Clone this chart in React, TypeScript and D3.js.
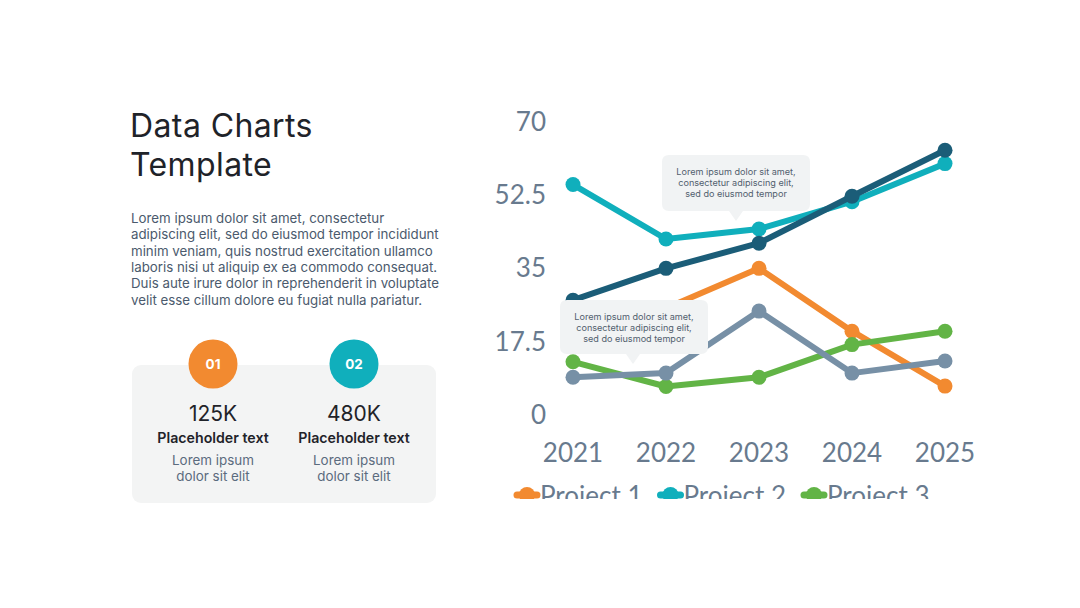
import React from "react";
import * as d3 from "d3";

const years = ["2021", "2022", "2023", "2024", "2025"];
const seriesNames = ["Project 1", "Project 2", "Project 3", "Project 4", "Project 5"];
const seriesColors = ["#f28a30", "#10afbc", "#62b446", "#7790a6", "#1b5d78"];
const project1 = [20, 25.5, 35, 20, 6.9];
const project2 = [55, 42, 44.4, 50.9, 60];
const project3 = [12.7, 6.8, 9, 16.8, 20];
const project4 = [9, 10, 24.8, 10, 12.9];
const project5 = [27.4, 35, 41, 52.2, 63.2];
const seriesValues = [project1, project2, project3, project4, project5];
const yTicks = [0, 17.5, 35, 52.5, 70];

const paragraph = [
  "Lorem ipsum dolor sit amet, consectetur",
  "adipiscing elit, sed do eiusmod tempor incididunt",
  "minim veniam, quis nostrud exercitation ullamco",
  "laboris nisi ut aliquip ex ea commodo consequat.",
  "Duis aute irure dolor in reprehenderit in voluptate",
  "velit esse cillum dolore eu fugiat nulla pariatur.",
];
const tipLines = [
  "Lorem ipsum dolor sit amet,",
  "consectetur adipiscing elit,",
  "sed do eiusmod tempor",
];
const stats = [
  { badge: "01", value: "125K", color: "#f28a30" },
  { badge: "02", value: "480K", color: "#10afbc" },
];

const FONT = "Inter, Lato, sans-serif";
const AXIS_FONT = "Lato, Inter, sans-serif";
const AXIS_COLOR = "#687a8e";

function Tooltip({ x, y, w, h, tipX }: { x: number; y: number; w: number; h: number; tipX: number }) {
  const r = 7;
  const p = d3.path();
  p.moveTo(x + r, y);
  p.lineTo(x + w - r, y);
  p.quadraticCurveTo(x + w, y, x + w, y + r);
  p.lineTo(x + w, y + h - r);
  p.quadraticCurveTo(x + w, y + h, x + w - r, y + h);
  p.lineTo(tipX + 7, y + h);
  p.lineTo(tipX, y + h + 10);
  p.lineTo(tipX - 7, y + h);
  p.lineTo(x + r, y + h);
  p.quadraticCurveTo(x, y + h, x, y + h - r);
  p.lineTo(x, y + r);
  p.quadraticCurveTo(x, y, x + r, y);
  p.closePath();
  return (
    <g>
      <path d={p.toString()} fill="#f1f3f4" />
      {tipLines.map((t, i) => (
        <text
          key={i}
          x={x + w / 2}
          y={y + 19.5 + i * 11}
          textAnchor="middle"
          fontSize={9.1}
          fill="#52606e"
          fontFamily={FONT}
        >
          {t}
        </text>
      ))}
    </g>
  );
}

export default function App() {
  const x = d3.scalePoint<string>().domain(years).range([573, 945]);
  const y = d3.scaleLinear().domain([0, 70]).range([415, 121.7]);
  const line = d3
    .line<number>()
    .x((_, i) => x(years[i]) as number)
    .y((d) => y(d));

  // legend wraps onto a second row which falls outside the clip
  const legendItems = seriesNames.map((name, i) => ({
    name,
    color: seriesColors[i],
    x: 516 + (i % 3) * 143.5,
    row: i < 3 ? 0 : 1,
  }));

  return (
    <div style={{ position: "absolute", left: 0, top: 0 }}>
      <svg width={1080} height={608} style={{ display: "block", background: "#ffffff" }}>
        <defs>
          <clipPath id="chartClip">
            <rect x={480} y={90} width={520} height={409} />
          </clipPath>
        </defs>

        {/* heading and intro copy */}
        <text x={130} y={137} fontSize={32} letterSpacing={0.4} fill="#1f2329" fontFamily={FONT}>
          Data Charts
        </text>
        <text x={130} y={176} fontSize={32} letterSpacing={0.4} fill="#1f2329" fontFamily={FONT}>
          Template
        </text>
        {paragraph.map((t, i) => (
          <text key={i} x={131} y={223 + i * 16.3} fontSize={13.3} fill="#4b5a6d" fontFamily={FONT}>
            {t}
          </text>
        ))}

        {/* stat card */}
        <rect x={132} y={365} width={304} height={138} rx={9} fill="#f3f4f4" />
        {stats.map((s, i) => {
          const cx = 213 + i * 141;
          return (
            <g key={i}>
              <circle cx={cx} cy={364} r={24.5} fill={s.color} />
              <text x={cx} y={369} textAnchor="middle" fontSize={13.5} fontWeight={700} fill="#ffffff" fontFamily={FONT}>
                {s.badge}
              </text>
              <text x={cx} y={421} textAnchor="middle" fontSize={21} fill="#1f2329" fontFamily={FONT}>
                {s.value}
              </text>
              <text x={cx} y={443} textAnchor="middle" fontSize={14.2} fontWeight={600} fill="#1f2329" fontFamily={FONT}>
                Placeholder text
              </text>
              <text x={cx} y={465} textAnchor="middle" fontSize={13.4} fill="#5b6b7e" fontFamily={FONT}>
                Lorem ipsum
              </text>
              <text x={cx} y={481} textAnchor="middle" fontSize={13.4} fill="#5b6b7e" fontFamily={FONT}>
                dolor sit elit
              </text>
            </g>
          );
        })}

        <g clipPath="url(#chartClip)">
          {/* y axis labels */}
          {yTicks.map((t) => (
            <text
              key={t}
              x={546}
              y={y(t)}
              dy="0.35em"
              textAnchor="end"
              fontSize={26}
              fill={AXIS_COLOR}
              fontFamily={AXIS_FONT}
            >
              {String(t)}
            </text>
          ))}
          {/* x axis labels */}
          {years.map((yr) => (
            <text
              key={yr}
              x={x(yr) as number}
              y={462}
              textAnchor="middle"
              fontSize={26}
              fill={AXIS_COLOR}
              fontFamily={AXIS_FONT}
            >
              {yr}
            </text>
          ))}

          {/* series */}
          {seriesValues.map((vals, si) => (
            <g key={si}>
              <path
                d={line(vals) as string}
                fill="none"
                stroke={seriesColors[si]}
                strokeWidth={6}
                strokeLinejoin="round"
                strokeLinecap="round"
              />
              {vals.map((v, i) => (
                <circle key={i} cx={x(years[i]) as number} cy={y(v)} r={7.5} fill={seriesColors[si]} />
              ))}
            </g>
          ))}

          {/* legend */}
          {legendItems.map((it, i) => {
            const ly = 495 + it.row * 34;
            return (
              <g key={i}>
                <line x1={it.x + 1} x2={it.x + 21} y1={ly} y2={ly} stroke={it.color} strokeWidth={7} strokeLinecap="round" />
                <circle cx={it.x + 11} cy={ly} r={8} fill={it.color} />
                <text x={it.x + 24} y={ly + 10} fontSize={26} fill={AXIS_COLOR} fontFamily={AXIS_FONT}>
                  {it.name}
                </text>
              </g>
            );
          })}
        </g>

        {/* callouts */}
        <Tooltip x={662} y={155} w={148} h={56} tipX={736} />
        <Tooltip x={560} y={300} w={148} h={54} tipX={633} />
      </svg>
    </div>
  );
}
